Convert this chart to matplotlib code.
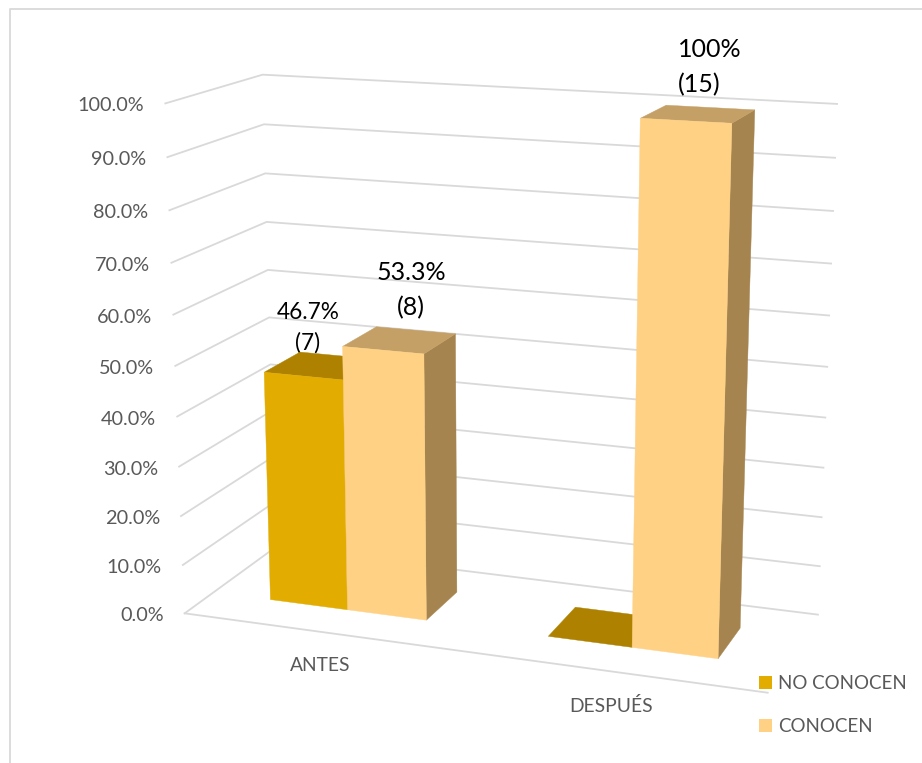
import numpy as np
import matplotlib
matplotlib.use('Agg')
import matplotlib.pyplot as plt

plt.rcParams['font.family'] = ['Lato', 'DejaVu Sans']

categories = ['ANTES', 'DESPUÉS']
series_names = ['NO CONOCEN', 'CONOCEN']
no_conocen = [46.7, 0.0]
conocen = [53.3, 100.0]
no_conocen_labels = ['46.7%\n(7)', None]
conocen_labels = ['53.3%\n(8)', '100%\n(15)']
ticks = [0, 10, 20, 30, 40, 50, 60, 70, 80, 90, 100]

front_colors = ['#E2AC00', '#FFD184']
top_colors = ['#AE8200', '#C5A066']
side_colors = ['#8F6B00', '#A5844F']
grid_color = '#D9D9D9'
text_color = '#595959'

# perspective: corners of the chart box (across, depth, value) and where they land in the image
box = [(0,0,0),(0,0,100),(0,1,0),(0,1,100),(1,1,0),(1,1,100),(1,0,0)]
img = [(185,612.7),(165,103.5),(275,548),(263,74.5),(818,614),(837,104),(767.7,693.3)]

A = []
for (u,d,z),(x,y) in zip(box,img):
    A.append([u,d,z/100,1,0,0,0,0,-x*u,-x*d,-x*z/100,-x])
    A.append([0,0,0,0,u,d,z/100,1,-y*u,-y*d,-y*z/100,-y])
P = np.linalg.svd(np.array(A))[2][-1].reshape(3,4)

def proj(u, d, z):
    p = P @ np.array([u, d, z/100, 1])
    return p[0]/p[2], p[1]/p[2]

fig = plt.figure(figsize=(9.22,7.63), dpi=100)
ax = fig.add_axes([0,0,1,1])
ax.set_xlim(0,922)
ax.set_ylim(763,0)
ax.axis('off')

# chart area border, only top and left show
ax.plot([9.5,9.5,922],[763,9,9], color=grid_color, lw=1.3, zorder=1)

# gridlines on side wall and back wall, tick labels
for t in ticks:
    pts = [proj(0,0,t), proj(0,1,t), proj(1,1,t)]
    ax.plot(*zip(*pts), color=grid_color, lw=1.3, zorder=1)
    ax.text(pts[0][0]-21, pts[0][1]+2.5, '%.1f%%' % t, ha='right', va='center', fontsize=14.3, color=text_color)

ax.plot(*zip(proj(0,0,0), proj(1,0,0)), color=grid_color, lw=1.3, zorder=1)

# bars: two series per category, gap is 1.5 bar widths, depth 0.3 to 0.7
n_cat = len(categories)
bar_w = 1/(n_cat*(len(series_names)+1.5))
d0, d1 = 0.305, 0.705

def face(corners, color, z):
    xy = [proj(*c) for c in corners]
    ax.fill(*zip(*xy), facecolor=color, edgecolor=color, lw=0.3, zorder=z)

zo = 2
for i in range(n_cat):
    left = i/n_cat + 0.75*bar_w
    for s, vals in enumerate([no_conocen, conocen]):
        v = vals[i]
        u0 = left + s*bar_w
        u1 = u0 + bar_w
        if v > 0:
            face([(u1,d0,0),(u1,d1,0),(u1,d1,v),(u1,d0,v)], side_colors[s], zo)
            face([(u0,d0,0),(u1,d0,0),(u1,d0,v),(u0,d0,v)], front_colors[s], zo+0.2)
        face([(u0,d0,v),(u1,d0,v),(u1,d1,v),(u0,d1,v)], top_colors[s], zo+0.1)
        zo += 1
    x, y = proj(i/n_cat + 0.5/n_cat, 0, 0)
    ax.text(x-1, y+34, categories[i], ha='center', va='center', fontsize=13.9, color=text_color)

# data labels, the (7) goes behind the bar top
ax.text(308, 328, no_conocen_labels[0], ha='center', va='center', fontsize=16.3, color='black', linespacing=1.55, zorder=1.5)
ax.text(411, 290.5, conocen_labels[0], ha='center', va='center', fontsize=18, color='black', linespacing=1.62, zorder=20)
ax.text(678, 67.5, conocen_labels[1], ha='left', va='center', fontsize=18, color='black', linespacing=1.62, zorder=20)

# legend
for name, color, y in zip(series_names, front_colors, [682.5, 725.5]):
    ax.fill([759,772,772,759],[y-6.5,y-6.5,y+6.5,y+6.5], color=color, lw=0, zorder=20)
    ax.text(778, y+1, name, ha='left', va='center', fontsize=13.5, color=text_color)

fig.savefig('out.png', dpi=100)
